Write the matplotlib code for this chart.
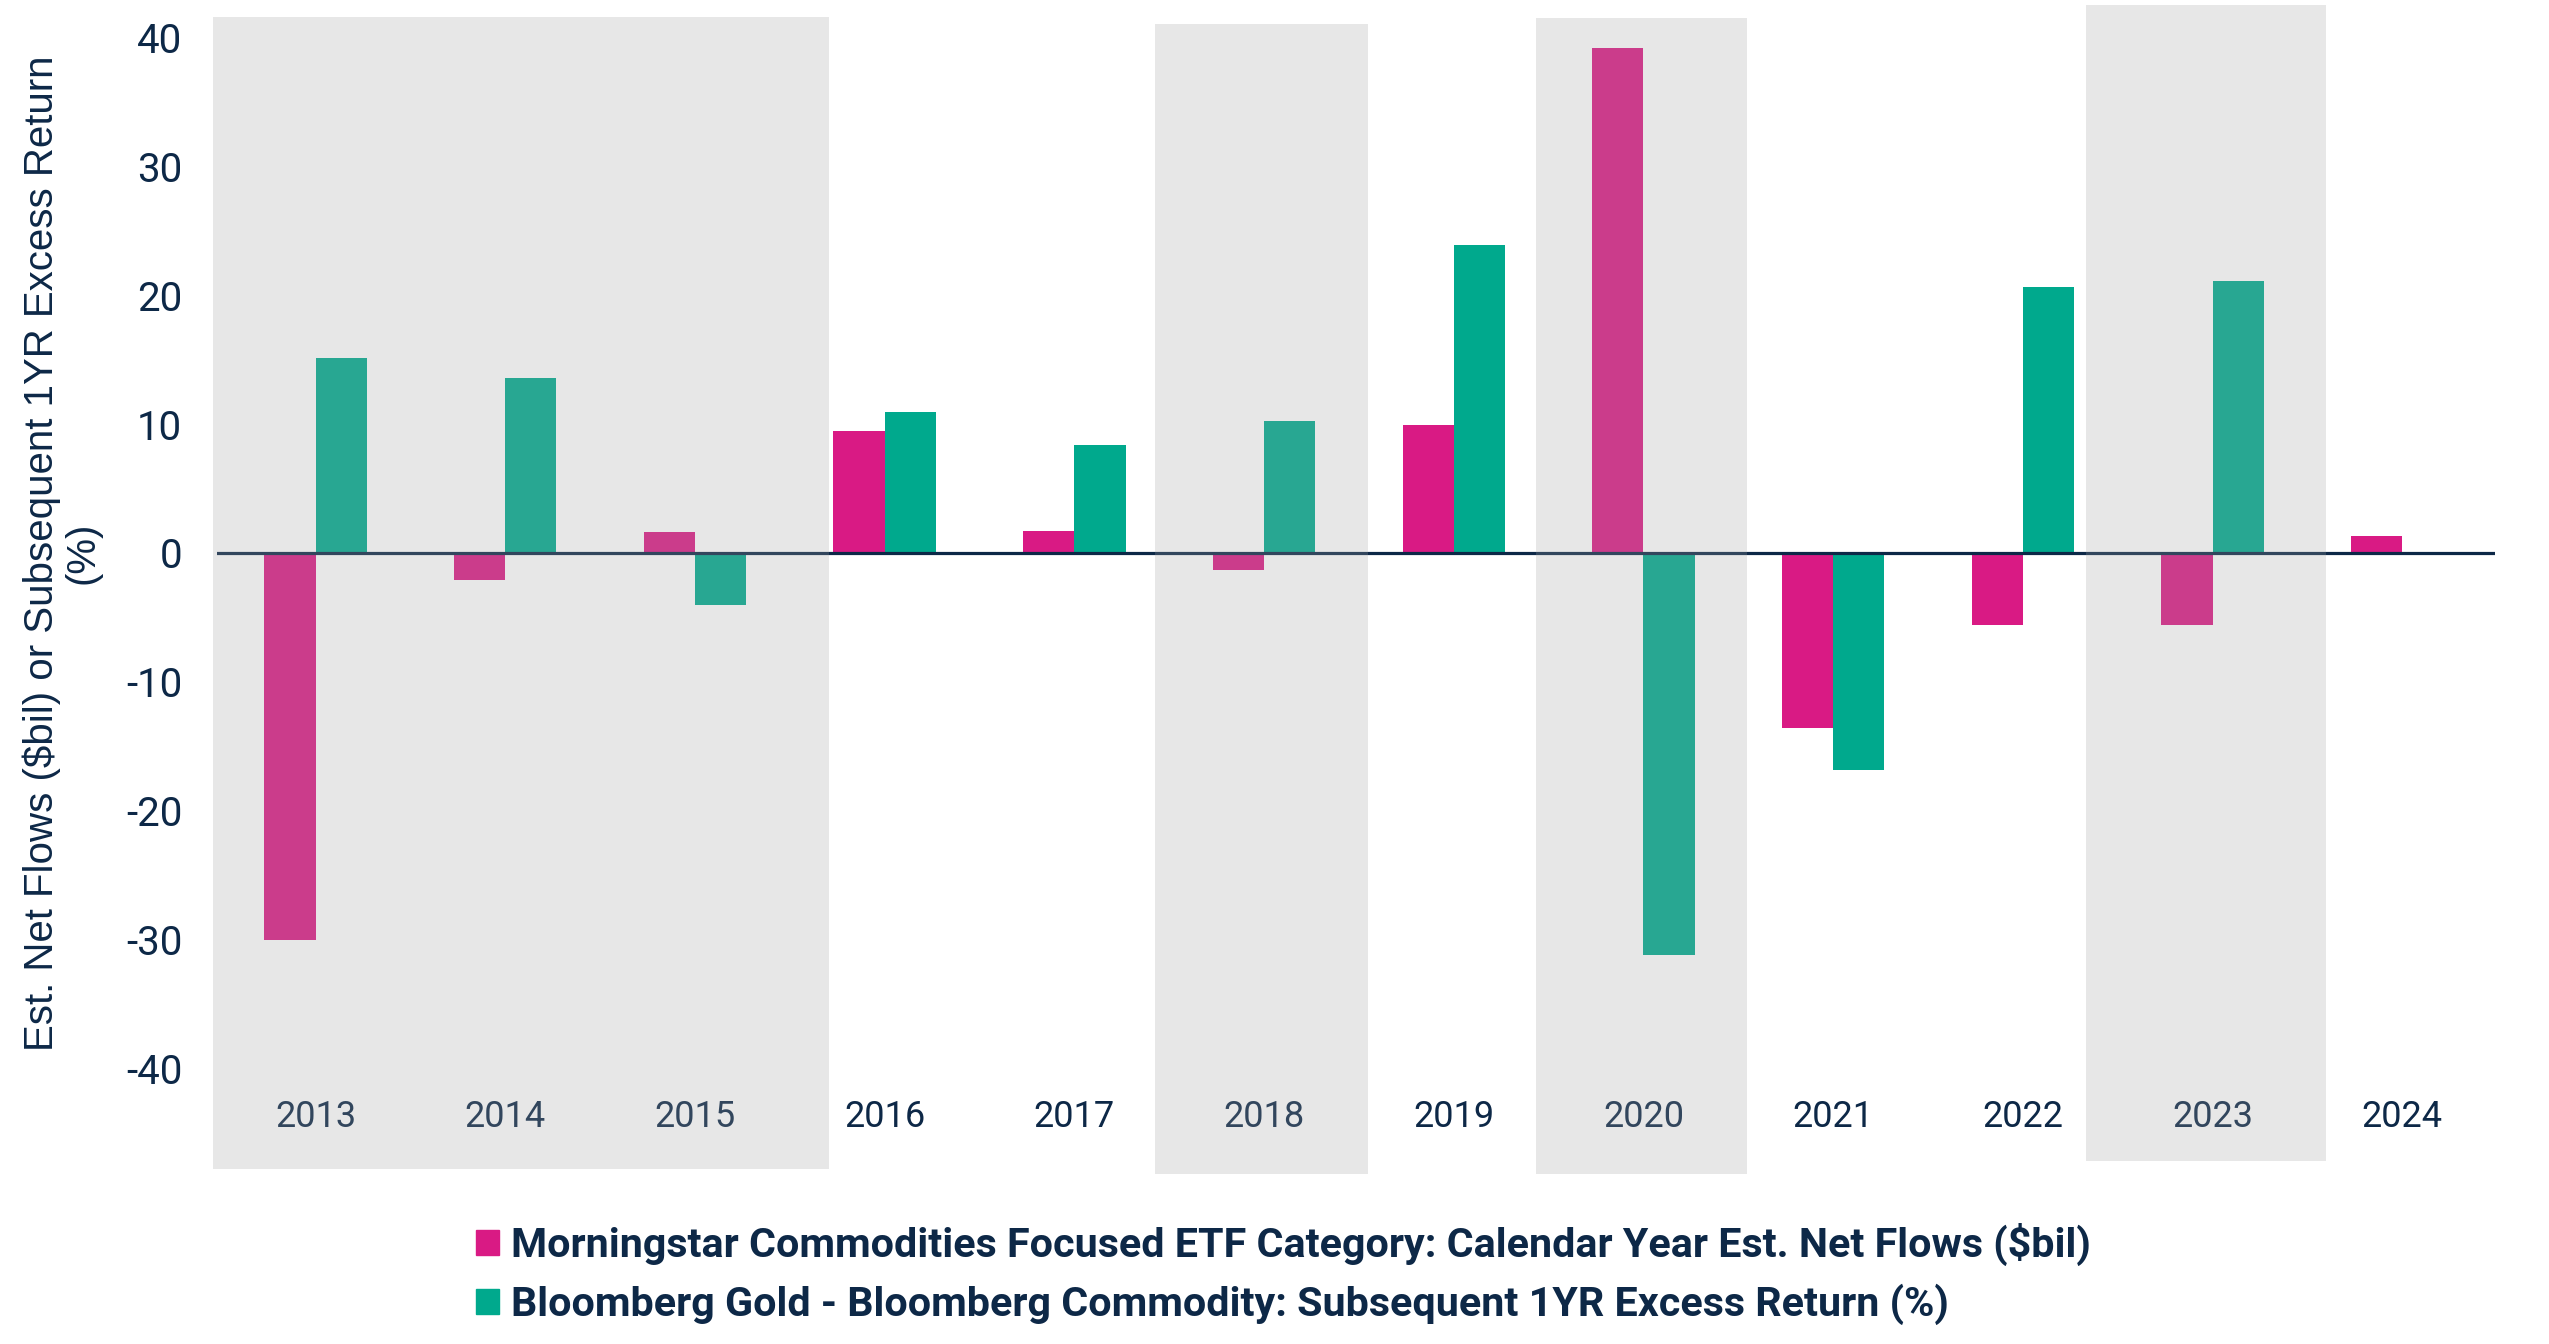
import matplotlib
matplotlib.use("Agg")
import matplotlib.pyplot as plt
from matplotlib.patches import Rectangle, Patch
import numpy as np

plt.rcParams['axes.unicode_minus'] = False
plt.rcParams['font.family'] = ['Roboto', 'DejaVu Sans']

years = ['2013', '2014', '2015', '2016', '2017', '2018',
         '2019', '2020', '2021', '2022', '2023', '2024']
# calendar year est. net flows ($bil)
net_flows = [-30.0, -2.1, 1.65, 9.45, 1.7, -1.3, 9.9, 39.2, -13.6, -5.6, -5.6, 1.3]
# subsequent 1yr excess return (%), none yet for 2024
excess_ret = [15.1, 13.6, -4.0, 10.95, 8.4, 10.25, 23.9, -31.2, -16.8, 20.6, 21.1, np.nan]

flow_label = 'Morningstar Commodities Focused ETF Category: Calendar Year Est. Net Flows ($bil)'
ret_label = 'Bloomberg Gold - Bloomberg Commodity: Subsequent 1YR Excess Return (%)'
ylab = 'Est. Net Flows ($bil) or Subsequent 1YR Excess Return\n(%)'

pink = '#D91A84'
green = '#00A98D'
navy = '#0D2847'

# grey highlight boxes (x from/to in category units, y from/to in data units)
shade_spans = [(-0.54, 2.707, -47.8, 41.6),
               (4.426, 5.549, -48.2, 41.0),
               (6.434, 7.547, -48.2, 41.5),
               (9.334, 10.599, -47.2, 42.5)]

fig = plt.figure(figsize=(25.49, 13.44), dpi=100)
ax = fig.add_axes([0.0851, 0.1857, 0.8938, 0.8057])

x = np.arange(len(years))
w = 0.27
ax.bar(x - w / 2, net_flows, w, color=pink, zorder=2)
ax.bar(x + w / 2, excess_ret, w, color=green, zorder=2)
ax.axhline(0, color=navy, lw=2.3, zorder=3)

for x0, x1, y0, y1 in shade_spans:
    ax.add_patch(Rectangle((x0, y0), x1 - x0, y1 - y0, facecolor='#a2a2a2',
                           alpha=0.25, lw=0, zorder=5, clip_on=False))

ax.set_xlim(-0.52, 11.49)
ax.set_ylim(-42, 42)
ax.set_yticks(np.arange(-40, 41, 10))
ax.set_xticks(x)
ax.set_xticklabels(years)
ax.tick_params(axis='y', length=0, pad=25, labelsize=29, labelcolor=navy)
ax.tick_params(axis='x', length=0, pad=3, labelsize=26, labelcolor=navy)
for s in ax.spines.values():
    s.set_visible(False)

fig.text(62 / 2549, 1 - 553 / 1344, ylab, rotation=90, ha='center', va='center',
         multialignment='center', fontsize=29, color=navy, linespacing=1.1,
         family=['Liberation Sans', 'DejaVu Sans'])

handles = [Patch(color=pink, label=flow_label), Patch(color=green, label=ret_label)]
leg = fig.legend(handles=handles, loc='upper left', bbox_to_anchor=(476 / 2549, 1 - 1223 / 1344),
                 frameon=False, borderpad=0, borderaxespad=0, handlelength=0.55,
                 handleheight=0.55, handletextpad=0.3, labelspacing=0.42,
                 prop={'family': 'Roboto', 'weight': 'bold', 'size': 29.7})
for t in leg.get_texts():
    t.set_color(navy)

fig.savefig('out.png', dpi=100)
